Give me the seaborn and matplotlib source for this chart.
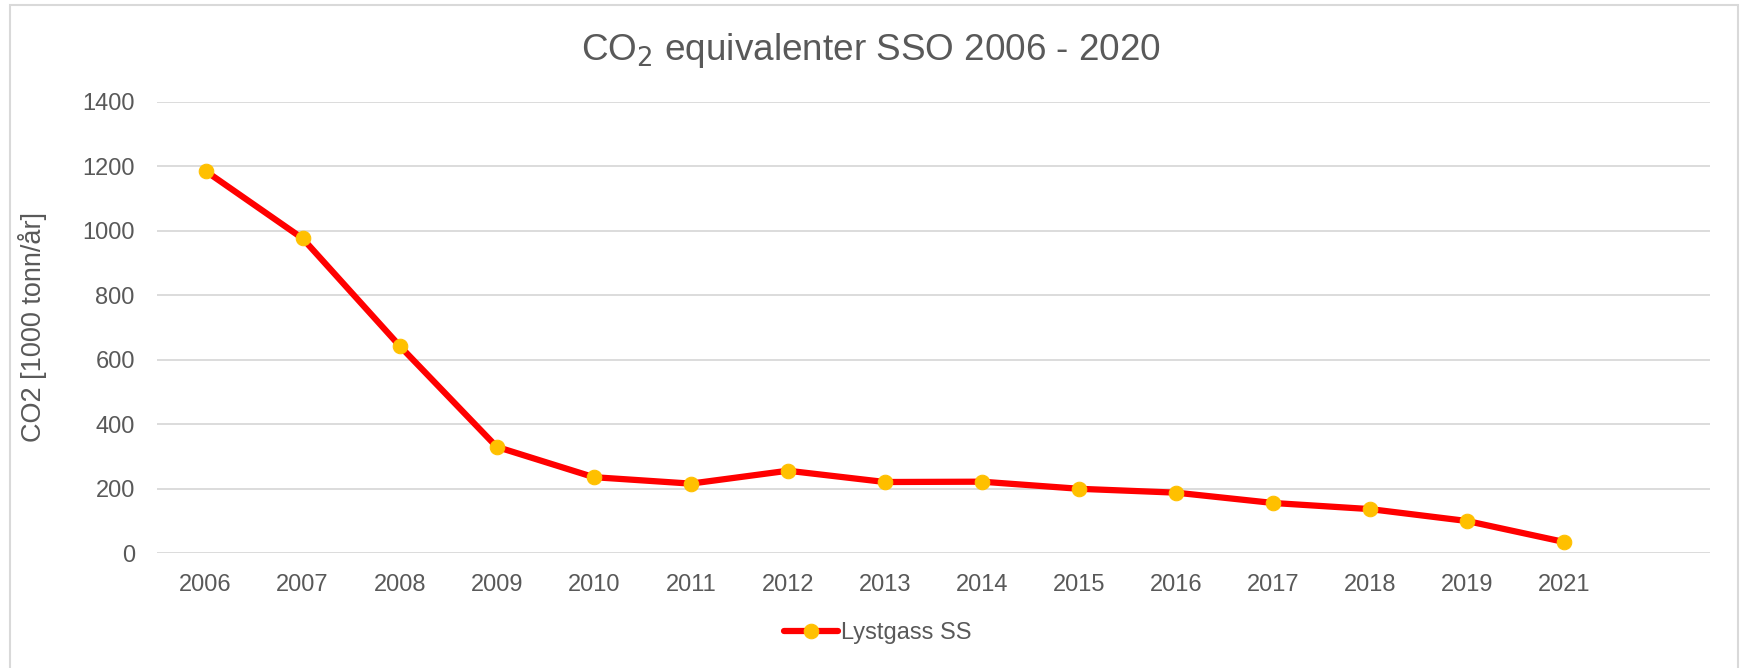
import pandas as pd
import matplotlib.pyplot as plt
import seaborn as sns
from matplotlib.patches import Rectangle

# data
years = ["2006", "2007", "2008", "2009", "2010", "2011", "2012", "2013",
         "2014", "2015", "2016", "2017", "2018", "2019", "2021"]
co2 = [1185, 976, 643, 330, 236, 216, 256, 221, 222, 200, 188, 156, 137, 100, 35]
series_name = "Lystgass SS"

sns.set_theme(style="white")
plt.rcParams['font.family'] = ['Liberation Sans', 'DejaVu Sans']
grey = "#595959"

df = pd.DataFrame({"pos": range(len(years)), "year": years, "value": co2})

fig = plt.figure(figsize=(17.43, 6.68), dpi=100)
ax = fig.add_axes([0.0901, 0.1717, 0.981 - 0.0901, 0.8478 - 0.1717])

sns.lineplot(data=df, x="pos", y="value", ax=ax, color="#FF0000", linewidth=4.5,
             marker="o", markersize=10.5, markerfacecolor="#FFC000",
             markeredgecolor="#FFC000", label=series_name, zorder=3)

ax.set_xlim(-0.5, len(years) + 0.5)
ax.set_ylim(0, 1400)
ax.set_yticks(range(0, 1401, 200))
ax.set_xticks(df["pos"])
ax.set_xticklabels(years)
ax.yaxis.grid(True, color="#D9D9D9", linewidth=1.3)
ax.set_axisbelow(True)
for s in ax.spines.values():
    s.set_visible(False)
ax.tick_params(axis="both", length=0, labelsize=17, labelcolor=grey)
ax.tick_params(axis="x", pad=15)
ax.tick_params(axis="y", pad=16)
ax.set_xlabel("")
ax.set_ylabel("CO2 [1000 tonn/år]", fontsize=19.5, color=grey)
ax.yaxis.set_label_coords(-0.0709, 0.5)

fig.text(0.4997, 0.925, r"CO$_2$ equivalenter SSO 2006 - 2020", ha="center", va="center",
         fontsize=26.6, color=grey)

ax.legend(loc="center", bbox_to_anchor=(0.5035, 0.052), bbox_transform=fig.transFigure,
          frameon=False, fontsize=17, labelcolor=grey, handlelength=2.3,
          handletextpad=0.1)

# outer chart border
fig.patches.append(Rectangle((10 / 1743, -0.01), (1738 - 10) / 1743, 1.0 - 5 / 668 + 0.01,
                             transform=fig.transFigure, fill=False,
                             edgecolor="#D9D9D9", linewidth=1.5))

fig.savefig("out.png", dpi=100)
